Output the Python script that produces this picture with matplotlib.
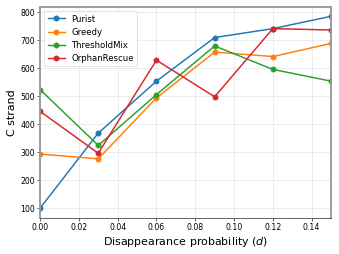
import numpy as np
import matplotlib
matplotlib.use("Agg")
import matplotlib.pyplot as plt

d = [0.00, 0.03, 0.06, 0.09, 0.12, 0.15]
purist = [98, 367, 553, 709, 741, 785]
greedy = [292, 275, 493, 657, 641, 688]
threshold_mix = [523, 323, 505, 679, 595, 553]
orphan_rescue = [445, 295, 628, 497, 741, 736]

series = [("Purist", purist, "#1f77b4"),
          ("Greedy", greedy, "#ff7f0e"),
          ("ThresholdMix", threshold_mix, "#2ca02c"),
          ("OrphanRescue", orphan_rescue, "#d62728")]

fig, ax = plt.subplots(figsize=(6.4, 4.8), dpi=53)
for name, vals, col in series:
    ax.plot(d, vals, marker="o", markersize=7, linewidth=2, color=col, label=name)

ax.set_xlim(0, 0.15)
ax.set_xlabel(r"Disappearance probability ($d$)", fontsize=15)
ax.set_ylabel("C strand", fontsize=15)
ax.tick_params(labelsize=10.5)
ax.grid(True, color="#e6e6e6", linewidth=1)
for s in ["left", "top", "right"]:
    ax.spines[s].set_color("#999999")
    ax.spines[s].set_linewidth(2.5)
ax.legend(loc="upper left", fontsize=11.5)
fig.subplots_adjust(left=0.118, right=0.976, bottom=0.142, top=0.972)
fig.savefig("out.png", dpi=53)
